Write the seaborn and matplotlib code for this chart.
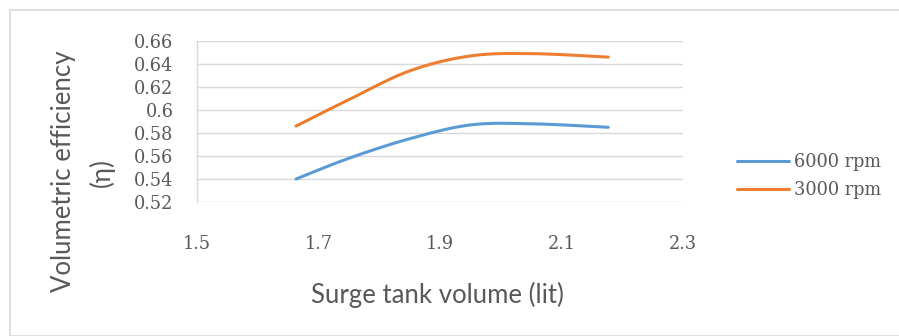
import numpy as np
import pandas as pd
import matplotlib
matplotlib.use("Agg")
import matplotlib.pyplot as plt
import seaborn as sns
from matplotlib.patches import Rectangle
from matplotlib.lines import Line2D

volume = [1.663, 1.75, 1.85, 1.95, 2.05, 2.177]
eff_6000 = [0.540, 0.558, 0.575, 0.587, 0.588, 0.585]
eff_3000 = [0.586, 0.609, 0.634, 0.647, 0.649, 0.646]
series_names = ["6000 rpm", "3000 rpm"]
x_ticks = [1.5, 1.7, 1.9, 2.1, 2.3]
y_ticks = [0.52, 0.54, 0.56, 0.58, 0.6, 0.62, 0.64, 0.66]
y_ticklabels = ["0.52", "0.54", "0.56", "0.58", "0.6", "0.62", "0.64", "0.66"]


def catmull(x, y, n=20):
    x = np.asarray(x, float); y = np.asarray(y, float)
    P = np.column_stack([x, y])
    P = np.vstack([P[0], P, P[-1]])
    out = []
    for i in range(1, len(P) - 2):
        p0, p1, p2, p3 = P[i - 1], P[i], P[i + 1], P[i + 2]
        t = np.linspace(0, 1, n, endpoint=False)[:, None]
        pts = 0.5 * ((2 * p1) + (-p0 + p2) * t + (2 * p0 - 5 * p1 + 4 * p2 - p3) * t ** 2
                     + (-p0 + 3 * p1 - 3 * p2 + p3) * t ** 3)
        out.append(pts)
    out.append(P[-2][None, :])
    out = np.vstack(out)
    return out[:, 0], out[:, 1]

frames = []
for name, vals in zip(series_names, [eff_6000, eff_3000]):
    sx, sy = catmull(volume, vals)
    frames.append(pd.DataFrame({"x": sx, "y": sy, "series": name}))
df = pd.concat(frames, ignore_index=True)

sns.set_style("white")
fig = plt.figure(figsize=(8.99, 3.36), dpi=100)
ax = fig.add_axes([197 / 899, 1 - 202 / 336, (683 - 197) / 899, (202 - 41) / 336])

palette = {"6000 rpm": "#5B9BD5", "3000 rpm": "#ED7D31"}
sns.lineplot(data=df, x="x", y="y", hue="series", palette=palette, sort=False,
             linewidth=2.2, ax=ax, legend=False, estimator=None, units="series")

tick_font = dict(family="DejaVu Serif", fontsize=12.8, color="#595959")
ax.set_xlim(1.5, 2.3)
ax.set_ylim(0.52, 0.66)
ax.set_xticks(x_ticks)
ax.set_xticklabels([f"{v:.1f}" for v in x_ticks], **tick_font)
ax.set_yticks(y_ticks)
ax.set_yticklabels(y_ticklabels, **tick_font)
ax.tick_params(axis="both", length=0)
ax.tick_params(axis="x", pad=24)
ax.tick_params(axis="y", pad=17)
ax.yaxis.grid(True, color="#D9D9D9", linewidth=1)
for s in ["top", "right", "bottom"]:
    ax.spines[s].set_visible(False)
ax.spines["left"].set_color("#D9D9D9")
ax.spines["left"].set_linewidth(1)
ax.set_xlabel("")
ax.set_ylabel("")

title_font = dict(family="Lato", fontsize=18.5, color="#595959")
fig.text(437 / 899, 1 - 295 / 336, "Surge tank volume (lit)", ha="center", va="center", **title_font)
fig.text(64 / 899, 1 - 171 / 336, "Volumetric efficiency", ha="center", va="center",
         rotation=90, rotation_mode="anchor", **title_font)
fig.text(102 / 899, 1 - 173 / 336, "(η)", ha="center", va="center",
         rotation=90, rotation_mode="anchor", **title_font)

handles = [Line2D([], [], color=palette[n], linewidth=2.2) for n in series_names]
leg = fig.legend(handles, series_names, loc="center left", bbox_to_anchor=(737 / 899, 1 - 176 / 336),
                 frameon=False, prop={"family": "DejaVu Serif", "size": 12.8}, handlelength=2.9,
                 handletextpad=0.33, labelspacing=0.55, borderpad=0, borderaxespad=0,
                 labelcolor="#595959")

fig.patches.append(Rectangle((10 / 899, 0), 1.2, 1 - 10 / 336, transform=fig.transFigure,
                             fill=False, edgecolor="#D9D9D9", linewidth=1.2))

fig.savefig("out.png", dpi=100, facecolor="white")
